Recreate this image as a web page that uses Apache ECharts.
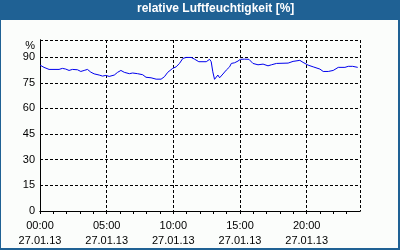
<!DOCTYPE html>
<html><head><meta charset="utf-8">
<script src="https://cdn.jsdelivr.net/npm/echarts@6/dist/echarts.min.js"></script>
<style>html,body{margin:0;padding:0;background:#fff}#c{width:400px;height:250px}</style>
</head><body><div id="c"></div>
<script>
const titleText = 'relative Luftfeuchtigkeit [%]';
const unitLabel = '%';
const hourTickLabels = ['00:00', '05:00', '10:00', '15:00', '20:00'];
const dateLabel = '27.01.13';
const yTicks = [0, 15, 30, 45, 60, 75, 90];
const hours = [0, 0.3, 0.68, 1.43, 1.68, 1.93, 2.18, 2.43, 2.81, 3.06, 3.31, 3.56, 3.81, 4.06, 4.44, 4.69, 4.94, 5.19, 5.57, 5.82, 6.07, 6.32, 6.70, 6.95, 7.32, 7.70, 7.95, 8.33, 8.71, 9.08, 9.33, 9.58, 9.95, 10.21, 10.46, 10.71, 10.96, 11.34, 11.59, 11.91, 12.47, 12.72, 12.84, 12.96, 13.09, 13.22, 13.34, 13.47, 13.72, 13.97, 14.22, 14.35, 14.60, 14.85, 15.03, 15.35, 15.67, 15.97, 16.35, 16.73, 17.10, 17.36, 17.74, 18.61, 18.98, 19.49, 19.73, 20.11, 20.49, 20.99, 21.24, 21.62, 21.99, 22.37, 22.87, 23.12, 23.45, 23.55, 23.83];
const humidity = [85.3, 84.0, 82.8, 82.8, 83.4, 83.0, 82.2, 82.8, 82.6, 81.6, 82.2, 82.8, 81.2, 80.2, 79.5, 78.9, 79.3, 78.7, 79.5, 81.1, 82.2, 81.1, 80.3, 80.7, 80.3, 79.7, 78.2, 77.9, 77.1, 77.1, 78.5, 81.1, 83.4, 84.3, 86.3, 89.2, 89.8, 89.8, 88.8, 87.3, 87.3, 88.7, 87.3, 81.4, 77.0, 76.0, 79.5, 77.9, 80.1, 82.4, 84.3, 86.3, 86.7, 87.7, 88.7, 88.8, 88.7, 86.3, 85.5, 85.9, 84.9, 85.5, 86.3, 86.5, 87.5, 88.1, 86.9, 85.3, 84.3, 83.0, 81.6, 81.6, 82.2, 84.0, 84.0, 84.6, 84.6, 84.0, 84.0];

const FONT = 'Liberation Sans';
const series = hours.map((h, i) => [h, humidity[i]]);
const chart = echarts.init(document.getElementById('c'), null, {renderer: 'canvas'});
const dash = {color: '#000', width: 1, type: [3, 2]};
chart.setOption({
  animation: false,
  backgroundColor: '#1f6194',
  graphic: [
    {type: 'rect', z: -10, shape: {x: 1, y: 20, width: 397, height: 228}, style: {fill: '#fbfdfb'}},
    {type: 'text', left: 217 - 80, top: 3, style: {text: titleText, fill: '#fff', font: 'bold 12px "Liberation Sans"', textAlign: 'left'}},
    {type: 'text', right: 400 - 35, top: 40, style: {text: unitLabel, fill: '#000', font: '11px "Liberation Sans"', textAlign: 'right'}}
  ],
  grid: {left: 40, top: 40, width: 320, height: 171, containLabel: false},
  xAxis: [
    {type: 'value', position: 'bottom', min: 0, max: 24, interval: 1,
     axisLine: {show: true, lineStyle: {color: '#000', width: 1}},
     axisTick: {show: true, inside: false, length: 3, lineStyle: {color: '#000'}},
     splitLine: {show: false},
     axisLabel: {show: true, color: '#000', fontFamily: FONT, fontSize: 11, lineHeight: 15, margin: 7,
       showMaxLabel: false,
       formatter: v => (v % 5 === 0 && v / 5 < hourTickLabels.length) ? hourTickLabels[v / 5] + '\n' + dateLabel : ''}},
    {type: 'value', position: 'top', min: 0, max: 24, interval: 5,
     axisLine: {show: true, lineStyle: {color: '#000', width: 1}},
     axisTick: {show: false}, axisLabel: {show: false},
     splitLine: {show: true, lineStyle: dash}}
  ],
  yAxis: [
    {type: 'value', position: 'left', min: 0, max: 100, interval: 15,
     axisLine: {show: true, lineStyle: {color: '#000', width: 1}},
     axisTick: {show: false},
     splitLine: {show: true, lineStyle: dash},
     axisLabel: {color: '#000', fontFamily: FONT, fontSize: 11, margin: 5,
       formatter: v => yTicks.indexOf(v) >= 0 ? String(v) : ''}},
    {type: 'value', position: 'right', min: 0, max: 100, interval: 15,
     axisLine: {show: true, lineStyle: {color: '#000', width: 1}},
     axisTick: {show: false}, axisLabel: {show: false}, splitLine: {show: false}}
  ],
  series: [{type: 'line', xAxisIndex: 0, yAxisIndex: 0, data: series, showSymbol: false,
    lineStyle: {color: '#0000ee', width: 1}, z: 5}]
});
</script></body></html>
